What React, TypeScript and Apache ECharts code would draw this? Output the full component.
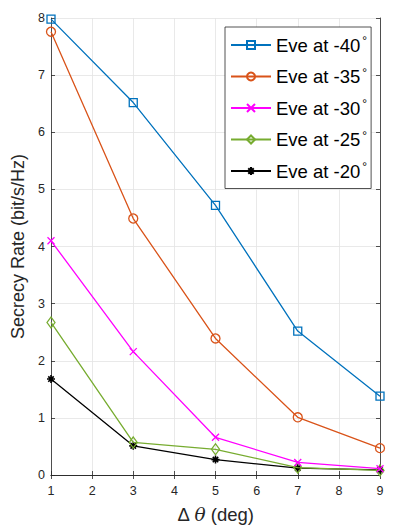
import React, { useEffect, useRef } from 'react';
import * as echarts from 'echarts';

const deltaTheta = [1, 3, 5, 7, 9];
const eveAngles = ['-40', '-35', '-30', '-25', '-20'];
const rateEve40 = [7.98, 6.52, 4.72, 2.52, 1.38];
const rateEve35 = [7.76, 4.49, 2.39, 1.01, 0.47];
const rateEve30 = [4.1, 2.16, 0.66, 0.22, 0.11];
const rateEve25 = [2.67, 0.57, 0.45, 0.13, 0.08];
const rateEve20 = [1.68, 0.51, 0.27, 0.12, 0.09];
const xTicks = [1, 2, 3, 4, 5, 6, 7, 8, 9];
const yTicks = [0, 1, 2, 3, 4, 5, 6, 7, 8];

const colors = ['#0072BD', '#D95319', '#FF00FF', '#77AC30', '#000000'];
const symbols = [
  'rect',
  'circle',
  'path://M0 0L10 10M10 0L0 10',
  'diamond',
  'path://M5 0L5 10M0 5L10 5M1.6 1.6L8.4 8.4M8.4 1.6L1.6 8.4',
];
const symbolSizes: any[] = [8, 9, 7, [8, 11], 8];
const borderWidths = [1.3, 1.3, 1.3, 1.3, 1.6];
const allRates = [rateEve40, rateEve35, rateEve30, rateEve25, rateEve20];

const FONT = '"Liberation Sans", Arial, Helvetica, sans-serif';
const AXIS = '#262626';
const GRID = '#e3e3e3';

export default function App() {
  const ref = useRef<HTMLDivElement>(null);
  useEffect(() => {
    if (!ref.current) return;
    const chart = echarts.init(ref.current, undefined, { renderer: 'svg' });
    const names = eveAngles.map((a) => `Eve at ${a}`);
    const series = allRates.map((rates, i) => ({
      name: names[i],
      type: 'line',
      xAxisIndex: 0,
      yAxisIndex: 0,
      data: deltaTheta.map((x, j) => [x, rates[j]]),
      symbol: symbols[i],
      symbolSize: symbolSizes[i],
      showAllSymbol: true,
      lineStyle: { color: colors[i], width: 1.3 },
      itemStyle: { color: 'rgba(255,255,255,0)', borderColor: colors[i], borderWidth: borderWidths[i] },
      emphasis: { disabled: true },
      z: 10 - i,
    }));
    const tickStyle = { show: true, inside: true, length: 4, lineStyle: { color: AXIS, width: 0.8 } };
    chart.setOption({
      animation: false,
      backgroundColor: '#ffffff',
      textStyle: { fontFamily: FONT },
      grid: { left: 51, right: 19, top: 18, bottom: 51, containLabel: false },
      legend: {
        show: true,
        orient: 'vertical',
        left: 225,
        top: 27,
        padding: [8, 4, 8, 5],
        itemGap: 12,
        itemWidth: 40,
        itemHeight: 10,
        borderColor: AXIS,
        borderWidth: 0.8,
        backgroundColor: '#ffffff',
        data: names,
        formatter: (n: string) => `{t|${n}}{d|°}`,
        textStyle: {
          fontFamily: FONT,
          rich: {
            t: { fontSize: 18.5, color: '#000', lineHeight: 20, fontFamily: FONT },
            d: { fontSize: 12, color: '#000', lineHeight: 12, verticalAlign: 'top', padding: [0, 0, 0, 2], fontFamily: FONT },
          },
        },
      },
      xAxis: [
        {
          type: 'value',
          min: 1,
          max: 9,
          interval: 1,
          position: 'bottom',
          axisLine: { show: true, lineStyle: { color: AXIS, width: 0.8 } },
          axisTick: tickStyle,
          axisLabel: {
            color: AXIS,
            fontSize: 12.5,
            fontFamily: FONT,
            margin: 9,
            formatter: (v: number) => (xTicks.includes(v) ? String(v) : ''),
          },
          splitLine: { show: true, lineStyle: { color: GRID, width: 0.8 } },
          name: '{n|Δ }{i|θ}{n| (deg)}',
          nameLocation: 'middle',
          nameGap: 30,
          nameTextStyle: {
            rich: {
              n: { fontSize: 18.5, color: AXIS, fontFamily: FONT },
              i: { fontSize: 18.5, color: AXIS, fontStyle: 'italic', fontFamily: '"DejaVu Serif", "Liberation Serif", serif' },
            },
          },
        },
        {
          type: 'value',
          min: 1,
          max: 9,
          interval: 1,
          position: 'top',
          axisLine: { show: true, lineStyle: { color: AXIS, width: 0.8 } },
          axisTick: tickStyle,
          axisLabel: { show: false },
          splitLine: { show: false },
        },
      ],
      yAxis: [
        {
          type: 'value',
          min: 0,
          max: 8,
          interval: 1,
          position: 'left',
          axisLine: { show: true, lineStyle: { color: AXIS, width: 0.8 } },
          axisTick: tickStyle,
          axisLabel: {
            color: AXIS,
            fontSize: 12.5,
            fontFamily: FONT,
            margin: 6,
            formatter: (v: number) => (yTicks.includes(v) ? String(v) : ''),
          },
          splitLine: { show: true, lineStyle: { color: GRID, width: 0.8 } },
          name: 'Secrecy Rate (bit/s/Hz)',
          nameLocation: 'middle',
          nameGap: 17,
          nameTextStyle: { fontSize: 18, color: AXIS, fontFamily: FONT },
        },
        {
          type: 'value',
          min: 0,
          max: 8,
          interval: 1,
          position: 'right',
          axisLine: { show: true, lineStyle: { color: AXIS, width: 0.8 } },
          axisTick: tickStyle,
          axisLabel: { show: false },
          splitLine: { show: false },
        },
      ],
      series,
    });
    return () => chart.dispose();
  }, []);
  return (
    <div
      ref={ref}
      style={{ position: 'fixed', left: 0, top: 0, width: 399, height: 529, background: '#fff' }}
    />
  );
}
